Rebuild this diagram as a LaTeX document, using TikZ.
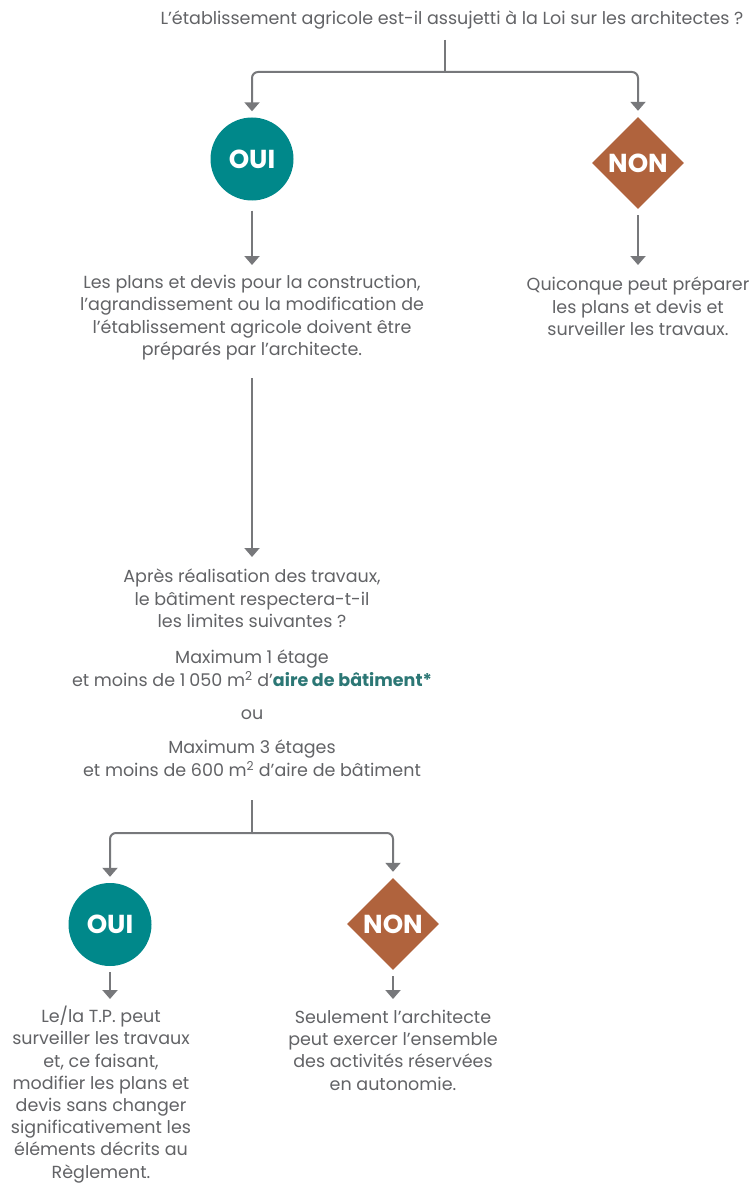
\documentclass[tikz,border=0pt]{standalone}
\usepackage{fontspec}
\setmainfont{Poppins}
\usetikzlibrary{arrows.meta,shapes.geometric}
\definecolor{teal}{HTML}{00888A}
\definecolor{copper}{HTML}{B0633D}
\definecolor{linegray}{HTML}{77787B}
\definecolor{txtgray}{HTML}{626366}
\definecolor{darkteal}{HTML}{2C7775}
\tikzset{
  conn/.style={draw=linegray, line width=2pt},
  arr/.style={conn, -{Triangle[width=15pt,length=9pt]}},
  oui/.style={circle, fill=teal, minimum size=83pt, inner sep=0pt, text=white, font=\fontsize{26}{26}\selectfont\bfseries},
  non/.style={diamond, fill=copper, minimum size=92pt, inner sep=0pt, text=white, font=\fontsize{26}{26}\selectfont\bfseries},
  txt/.style={text=txtgray, align=center, inner sep=0pt, anchor=north, font=\fontsize{17.5}{22.4}\selectfont}
}
\begin{document}
\begin{tikzpicture}[x=1pt,y=-1pt]
\useasboundingbox[fill=white] (0,0) rectangle (754,1185);
% top question
\node[txt] (q1) at (452,10.5) {L’établissement agricole est-il assujetti à la Loi sur les architectes ?};
\coordinate (t1) at (445,40);
\coordinate (j1) at (445,72);
\node[oui] (oui1) at (252,159) {OUI};
\node[non] (non1) at (638,163) {NON};
\draw[conn] (t1) -- (j1);
\draw[arr, rounded corners=6pt, shorten >=6pt] (j1) -| (oui1.north);
\draw[arr, rounded corners=6pt, shorten >=6pt] (j1) -| (non1.north);
% texts under first decisions
\node[txt] (a1) at (252,275) {Les plans et devis pour la construction,\\l’agrandissement ou la modification de\\l’établissement agricole doivent être\\préparés par l’architecte.};
\node[txt] (b1) at (638,277) {Quiconque peut préparer\\les plans et devis et\\surveiller les travaux.};
\coordinate (ta1) at (252,265);
\coordinate (tb1) at (638,265);
\draw[arr, shorten <=10pt] (oui1.south) -- (ta1);
\draw[arr, shorten <=6pt] (non1.south) -- (tb1);
% long arrow
\coordinate (s2) at (252,378);
\coordinate (e2) at (252,557);
\draw[arr] (s2) -- (e2);
% second question
\node[txt] (q2) at (252,569) {Après réalisation des travaux,\\le bâtiment respectera-t-il\\les limites suivantes ?};
\node[txt] (m1) at (252,650) {Maximum 1 étage\\et moins de 1\hspace{4pt}050 m\textsuperscript{2} d’\textcolor{darkteal}{\bfseries aire de bâtiment*}};
\node[txt, anchor=base] (ou) at (252,719) {ou};
\node[txt] (m2) at (252,740) {Maximum 3 étages\\et moins de 600 m\textsuperscript{2} d’aire de bâtiment};
% second branching
\coordinate (t3) at (252,800);
\coordinate (j3) at (252,833);
\node[oui] (oui2) at (110,924.5) {OUI};
\node[non] (non2) at (393,924) {NON};
\draw[conn] (t3) -- (j3);
\draw[arr, rounded corners=6pt, shorten >=6pt] (j3) -| (oui2.north);
\draw[arr, rounded corners=6pt, shorten >=6pt] (j3) -| (non2.north);
\coordinate (ta2) at (110,999);
\coordinate (tb2) at (393,999);
\draw[arr, shorten <=6pt] (oui2.south) -- (ta2);
\draw[arr, shorten <=6pt] (non2.south) -- (tb2);
\node[txt, font=\fontsize{17.5}{22.2}\selectfont] (a2) at (101,1006) {Le/la T.P. peut\\surveiller les travaux\\et, ce faisant,\\modifier les plans et\\devis sans changer\\significativement les\\éléments décrits au\\Règlement.};
\node[txt] (b2) at (393,1009.5) {Seulement l’architecte\\peut exercer l’ensemble\\des activités réservées\\en autonomie.};
\end{tikzpicture}
\end{document}
